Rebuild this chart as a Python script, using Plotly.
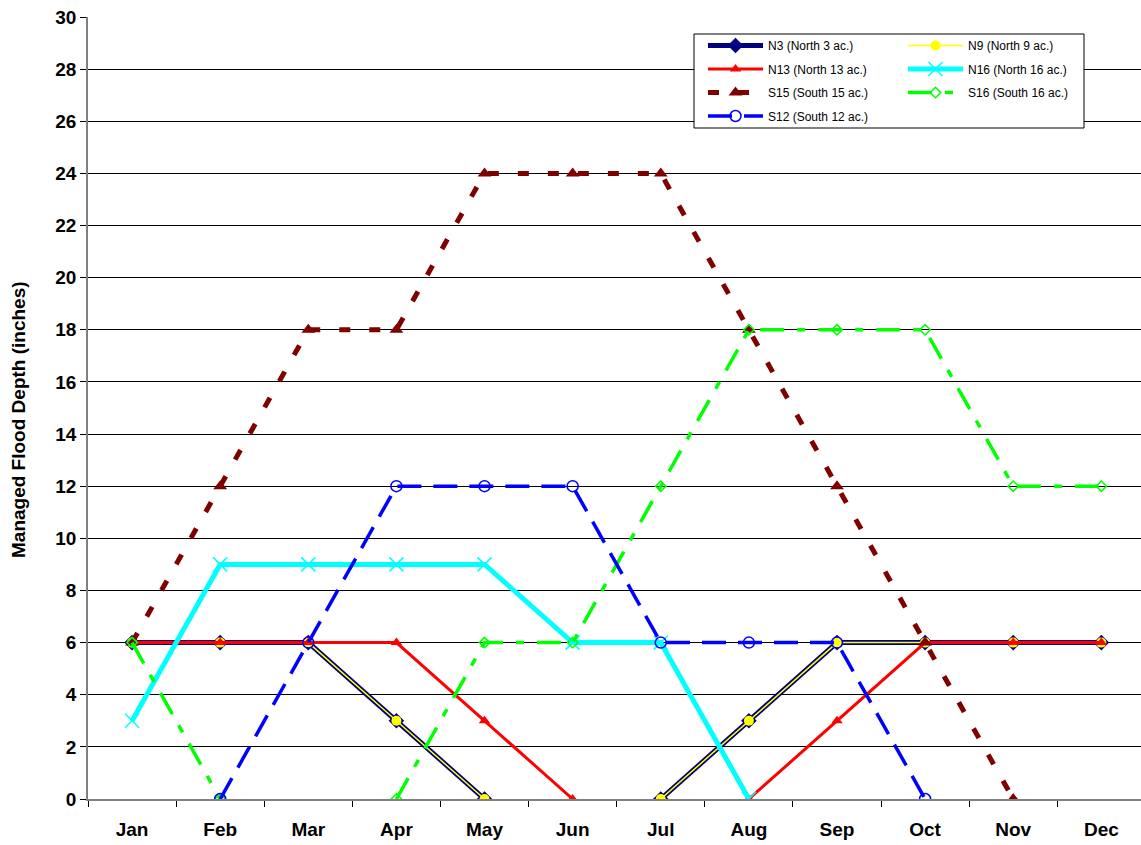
import plotly.graph_objects as go

# Months on the category axis
months = ["Jan", "Feb", "Mar", "Apr", "May", "Jun",
          "Jul", "Aug", "Sep", "Oct", "Nov", "Dec"]

# Managed flood depth per unit (inches); None = no flooding scheduled
n3 = [6, 6, 6, 3, 0, None, 0, 3, 6, 6, 6, 6]
n9 = [6, 6, 6, 3, 0, None, 0, 3, 6, 6, 6, 6]
n13 = [6, 6, 6, 6, 3, 0, None, 0, 3, 6, 6, 6]
n16 = [3, 9, 9, 9, 9, 6, 6, 0, None, None, None, None]
s15 = [6, 12, 18, 18, 24, 24, 24, 18, 12, 6, 0, None]
s16 = [6, 0, None, 0, 6, 6, 12, 18, 18, 18, 12, 12]
s12 = [None, 0, 6, 12, 12, 12, 6, 6, 6, 0, None, None]

y_ticks = list(range(0, 31, 2))

W, H = 1141, 845
L, R, T, B = 88, 0, 17, 46
PW, PH = W - L - R, H - T - B

FONT = "Arial, Liberation Sans, Helvetica, sans-serif"

series = [
    # name, values, legend, line, marker
    ("N3 (North 3 ac.)", n3, "legend",
     dict(color="#000080", width=5),
     dict(symbol="diamond", size=12, color="#000080")),
    ("N9 (North 9 ac.)", n9, "legend2",
     dict(color="#FFFF00", width=1.5),
     dict(symbol="circle", size=10, color="#FFFF00")),
    ("N13 (North 13 ac.)", n13, "legend",
     dict(color="#FF0000", width=3),
     dict(symbol="triangle-up", size=10, color="#FF0000")),
    ("N16 (North 16 ac.)", n16, "legend2",
     dict(color="#00FFFF", width=5),
     dict(symbol="x-thin-open", size=14, color="#00FFFF",
          line=dict(color="#00FFFF", width=1.5))),
    ("S15 (South 15 ac.)", s15, "legend",
     dict(color="#800000", width=5, dash="11px,19px"),
     dict(symbol="triangle-up", size=12, color="#800000")),
    ("S16 (South 16 ac.)", s16, "legend2",
     dict(color="#00FF00", width=3.5, dash="24px,13px,8px,13px"),
     dict(symbol="diamond-open", size=8, color="#00FF00",
          line=dict(color="#00FF00", width=1.5))),
    ("S12 (South 12 ac.)", s12, "legend",
     dict(color="#0000FF", width=3.5, dash="24px,12px"),
     dict(symbol="circle-open", size=11, color="#0000FF",
          line=dict(color="#0000FF", width=1.5))),
]

fig = go.Figure()
for name, vals, leg, line, marker in series:
    fig.add_trace(go.Scatter(
        x=months, y=vals, name=name, mode="lines+markers",
        line=line, marker=marker, connectgaps=False,
        legend=leg, legendgroup=name,
    ))


# pixel -> paper conversion for the plot area
def px_x(px):
    return (px - L) / PW


def px_y(py):
    return (H - B - py) / PH


legend_common = dict(
    xref="paper", yref="paper",
    xanchor="left", yanchor="top",
    bgcolor="rgba(0,0,0,0)", borderwidth=0,
    font=dict(family=FONT, size=12, color="#000000"),
    itemwidth=55, tracegroupgap=4.5, orientation="v",
)

# legend frame
fig.add_shape(type="rect", xref="paper", yref="paper",
              x0=px_x(694), x1=px_x(1084), y0=px_y(128), y1=px_y(34),
              line=dict(color="#000000", width=1), fillcolor="#FFFFFF",
              layer="above")

fig.add_annotation(
    text="<b>Managed Flood Depth (inches)</b>", textangle=-90,
    xref="paper", yref="paper", x=px_x(18), y=px_y(420),
    xanchor="center", yanchor="middle", showarrow=False,
    font=dict(family=FONT, size=19, color="#000000"),
)

fig.update_layout(
    width=W, height=H,
    margin=dict(l=L, r=R, t=T, b=B, pad=0, autoexpand=False),
    paper_bgcolor="#FFFFFF", plot_bgcolor="#FFFFFF",
    font=dict(family=FONT, color="#000000"),
    legend=dict(x=px_x(703), y=px_y(31), **legend_common),
    legend2=dict(x=px_x(903), y=px_y(31), **legend_common),
    xaxis=dict(
        type="category", categoryorder="array", categoryarray=months,
        range=[-0.5, 11.45], tickson="boundaries",
        ticks="outside", ticklen=6, tickcolor="#000000", tickwidth=1,
        ticklabelstandoff=12,
        showline=True, linecolor="#808080", linewidth=1.5,
        showgrid=False, zeroline=False,
        tickfont=dict(family=FONT, size=19, color="#000000", weight="bold"),
    ),
    yaxis=dict(
        range=[0, 30], tickvals=y_ticks,
        ticktext=[f"<b>{v}</b>" for v in y_ticks],
        ticks="outside", ticklen=6, tickcolor="#000000", tickwidth=1,
        showline=True, linecolor="#808080", linewidth=1.5,
        showgrid=True, gridcolor="#000000", gridwidth=1,
        zeroline=False,
        tickfont=dict(family=FONT, size=19, color="#000000"),
    ),
)

fig.write_html("out.html")
